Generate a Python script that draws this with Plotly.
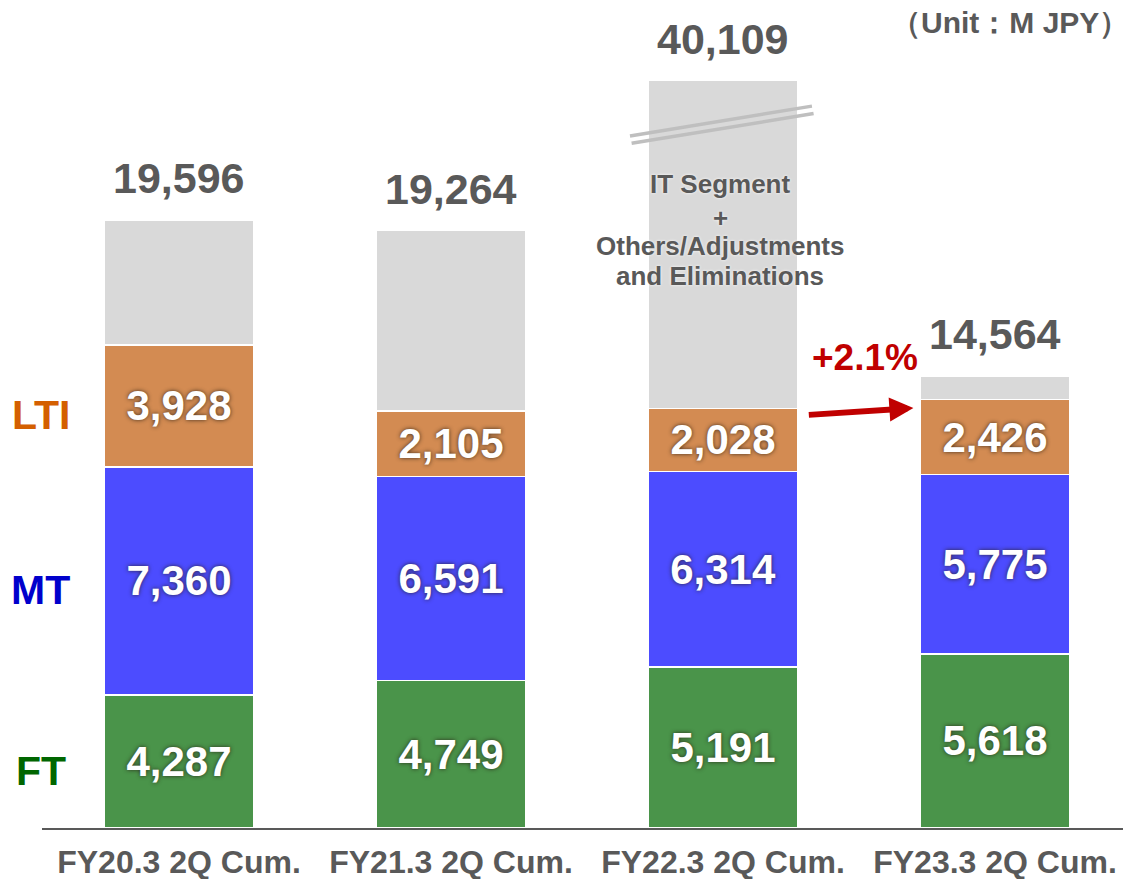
import plotly.graph_objects as go

# ---------------- data ----------------
categories = ["FY20.3 2Q Cum.", "FY21.3 2Q Cum.", "FY22.3 2Q Cum.", "FY23.3 2Q Cum."]
ft_values = [4287, 4749, 5191, 5618]
mt_values = [7360, 6591, 6314, 5775]
lti_values = [3928, 2105, 2028, 2426]
total_values = [19596, 19264, 40109, 14564]
segment_labels = ["FT", "MT", "LTI"]
growth_label = "+2.1%"
it_note_lines = ["IT Segment", "+", "Others/Adjustments", "and Eliminations"]
unit_label = "（Unit：M JPY）"

# broken-axis display cap for the oversized bar
display_cap = 24100

# ---------------- derived ----------------
x_pos = list(range(len(categories)))
other_values = [t - a - b - c for t, a, b, c in zip(total_values, ft_values, mt_values, lti_values)]
display_tops = [min(t, display_cap) for t in total_values]
other_display = [d - (a + b + c) for d, a, b, c in zip(display_tops, ft_values, mt_values, lti_values)]

FONT = "Arial, 'Liberation Sans', sans-serif"
GREEN, BLUE, ORANGE, GRAY = "#4A944A", "#4C4CFF", "#D38B52", "#D9D9D9"
TXT = "#595959"
SHADOW = "0px 0px 4px rgba(40,30,20,0.85)"
BAR_W = 0.55

fig = go.Figure()
for vals, col in [(ft_values, GREEN), (mt_values, BLUE), (lti_values, ORANGE)]:
    fig.add_trace(go.Bar(
        x=x_pos, y=vals, width=BAR_W,
        marker=dict(color=col, line=dict(color="white", width=1.5)),
        text=[f"{v:,}" for v in vals], textposition="inside",
        insidetextanchor="middle", constraintext="none",
        textfont=dict(family=FONT, size=42, color="white", weight="bold", shadow=SHADOW),
        hoverinfo="skip", showlegend=False,
    ))
fig.add_trace(go.Bar(
    x=x_pos, y=other_display, width=BAR_W,
    marker=dict(color=GRAY, line=dict(color="white", width=1.5)),
    hoverinfo="skip", showlegend=False,
))

annotations = []
# totals above bars
for xi, top, tot in zip(x_pos, display_tops, total_values):
    annotations.append(dict(
        x=xi, y=top, xref="x", yref="y", text=f"{tot:,}", showarrow=False,
        yanchor="middle", yshift=42,
        font=dict(family=FONT, size=43, color=TXT, weight="bold"),
    ))

# left-side segment labels
seg_centers = [ft_values[0] / 2,
               ft_values[0] + mt_values[0] / 2,
               ft_values[0] + mt_values[0] + lti_values[0] / 2]
seg_colors = ["#006600", "#0000CC", "#D45F00"]
for lab, yc, col in zip(segment_labels, seg_centers, seg_colors):
    annotations.append(dict(
        x=-0.001, y=yc, xref="paper", yref="y", text=lab, showarrow=False,
        xanchor="center", yanchor="middle", yshift=-9,
        font=dict(family=FONT, size=41, color=col, weight="bold"),
    ))

# IT segment note (one annotation per line for tight spacing)
for line, ys in zip(it_note_lines, [46, 12, -16, -46]):
    annotations.append(dict(
        x=1.99, y=19300, xref="x", yref="y", text=line, yshift=ys,
        showarrow=False, xanchor="center", yanchor="middle",
        font=dict(family=FONT, size=26, color=TXT, weight="bold",
                  shadow="0px 0px 3px white"),
    ))

# growth arrow and label
annotations.append(dict(
    x=2.70, y=13545, ax=2.31, ay=13320, xref="x", yref="y", axref="x", ayref="y",
    text="", showarrow=True, arrowhead=2, arrowsize=0.8, arrowwidth=6,
    arrowcolor="#C00000",
))
annotations.append(dict(
    x=2.522, y=15158, xref="x", yref="y", text=growth_label, showarrow=False,
    font=dict(family=FONT, size=37, color="#C00000", weight="bold"),
))

# unit label
annotations.append(dict(
    x=0.8955, y=0.973, xref="paper", yref="paper", text=unit_label,
    showarrow=False, xanchor="center", yanchor="middle",
    font=dict(family=FONT, size=30, color=TXT, weight="bold"),
))

# break marks on the oversized bar
shapes = []
for y0, y1, dx in [(22320, 23280, 0.0), (22080, 23040, 0.006)]:
    shapes.append(dict(type="line", xref="x", yref="y",
                       x0=1.658 + dx, y0=y0, x1=2.327 + dx, y1=y1,
                       line=dict(color="#BFBFBF", width=3.5)))

fig.update_layout(
    barmode="stack",
    width=1123, height=879,
    margin=dict(l=42, r=0, t=0, b=51),
    paper_bgcolor="white", plot_bgcolor="white",
    annotations=annotations, shapes=shapes,
    xaxis=dict(range=[-0.5037, 3.4706], tickvals=x_pos, ticktext=categories,
               showgrid=False, zeroline=False, showline=True, automargin=False,
               linecolor="#595959", linewidth=2, ticks="", ticklabelstandoff=5,
               tickfont=dict(family=FONT, size=32, color=TXT, weight="bold")),
    yaxis=dict(range=[0, 26703], visible=False, showgrid=False, zeroline=False,
               automargin=False),
)

fig.write_html(
    "out.html",
    config={"displayModeBar": False, "responsive": False},
    post_script="document.body.style.margin='0px';document.body.style.overflow='hidden';",
)
